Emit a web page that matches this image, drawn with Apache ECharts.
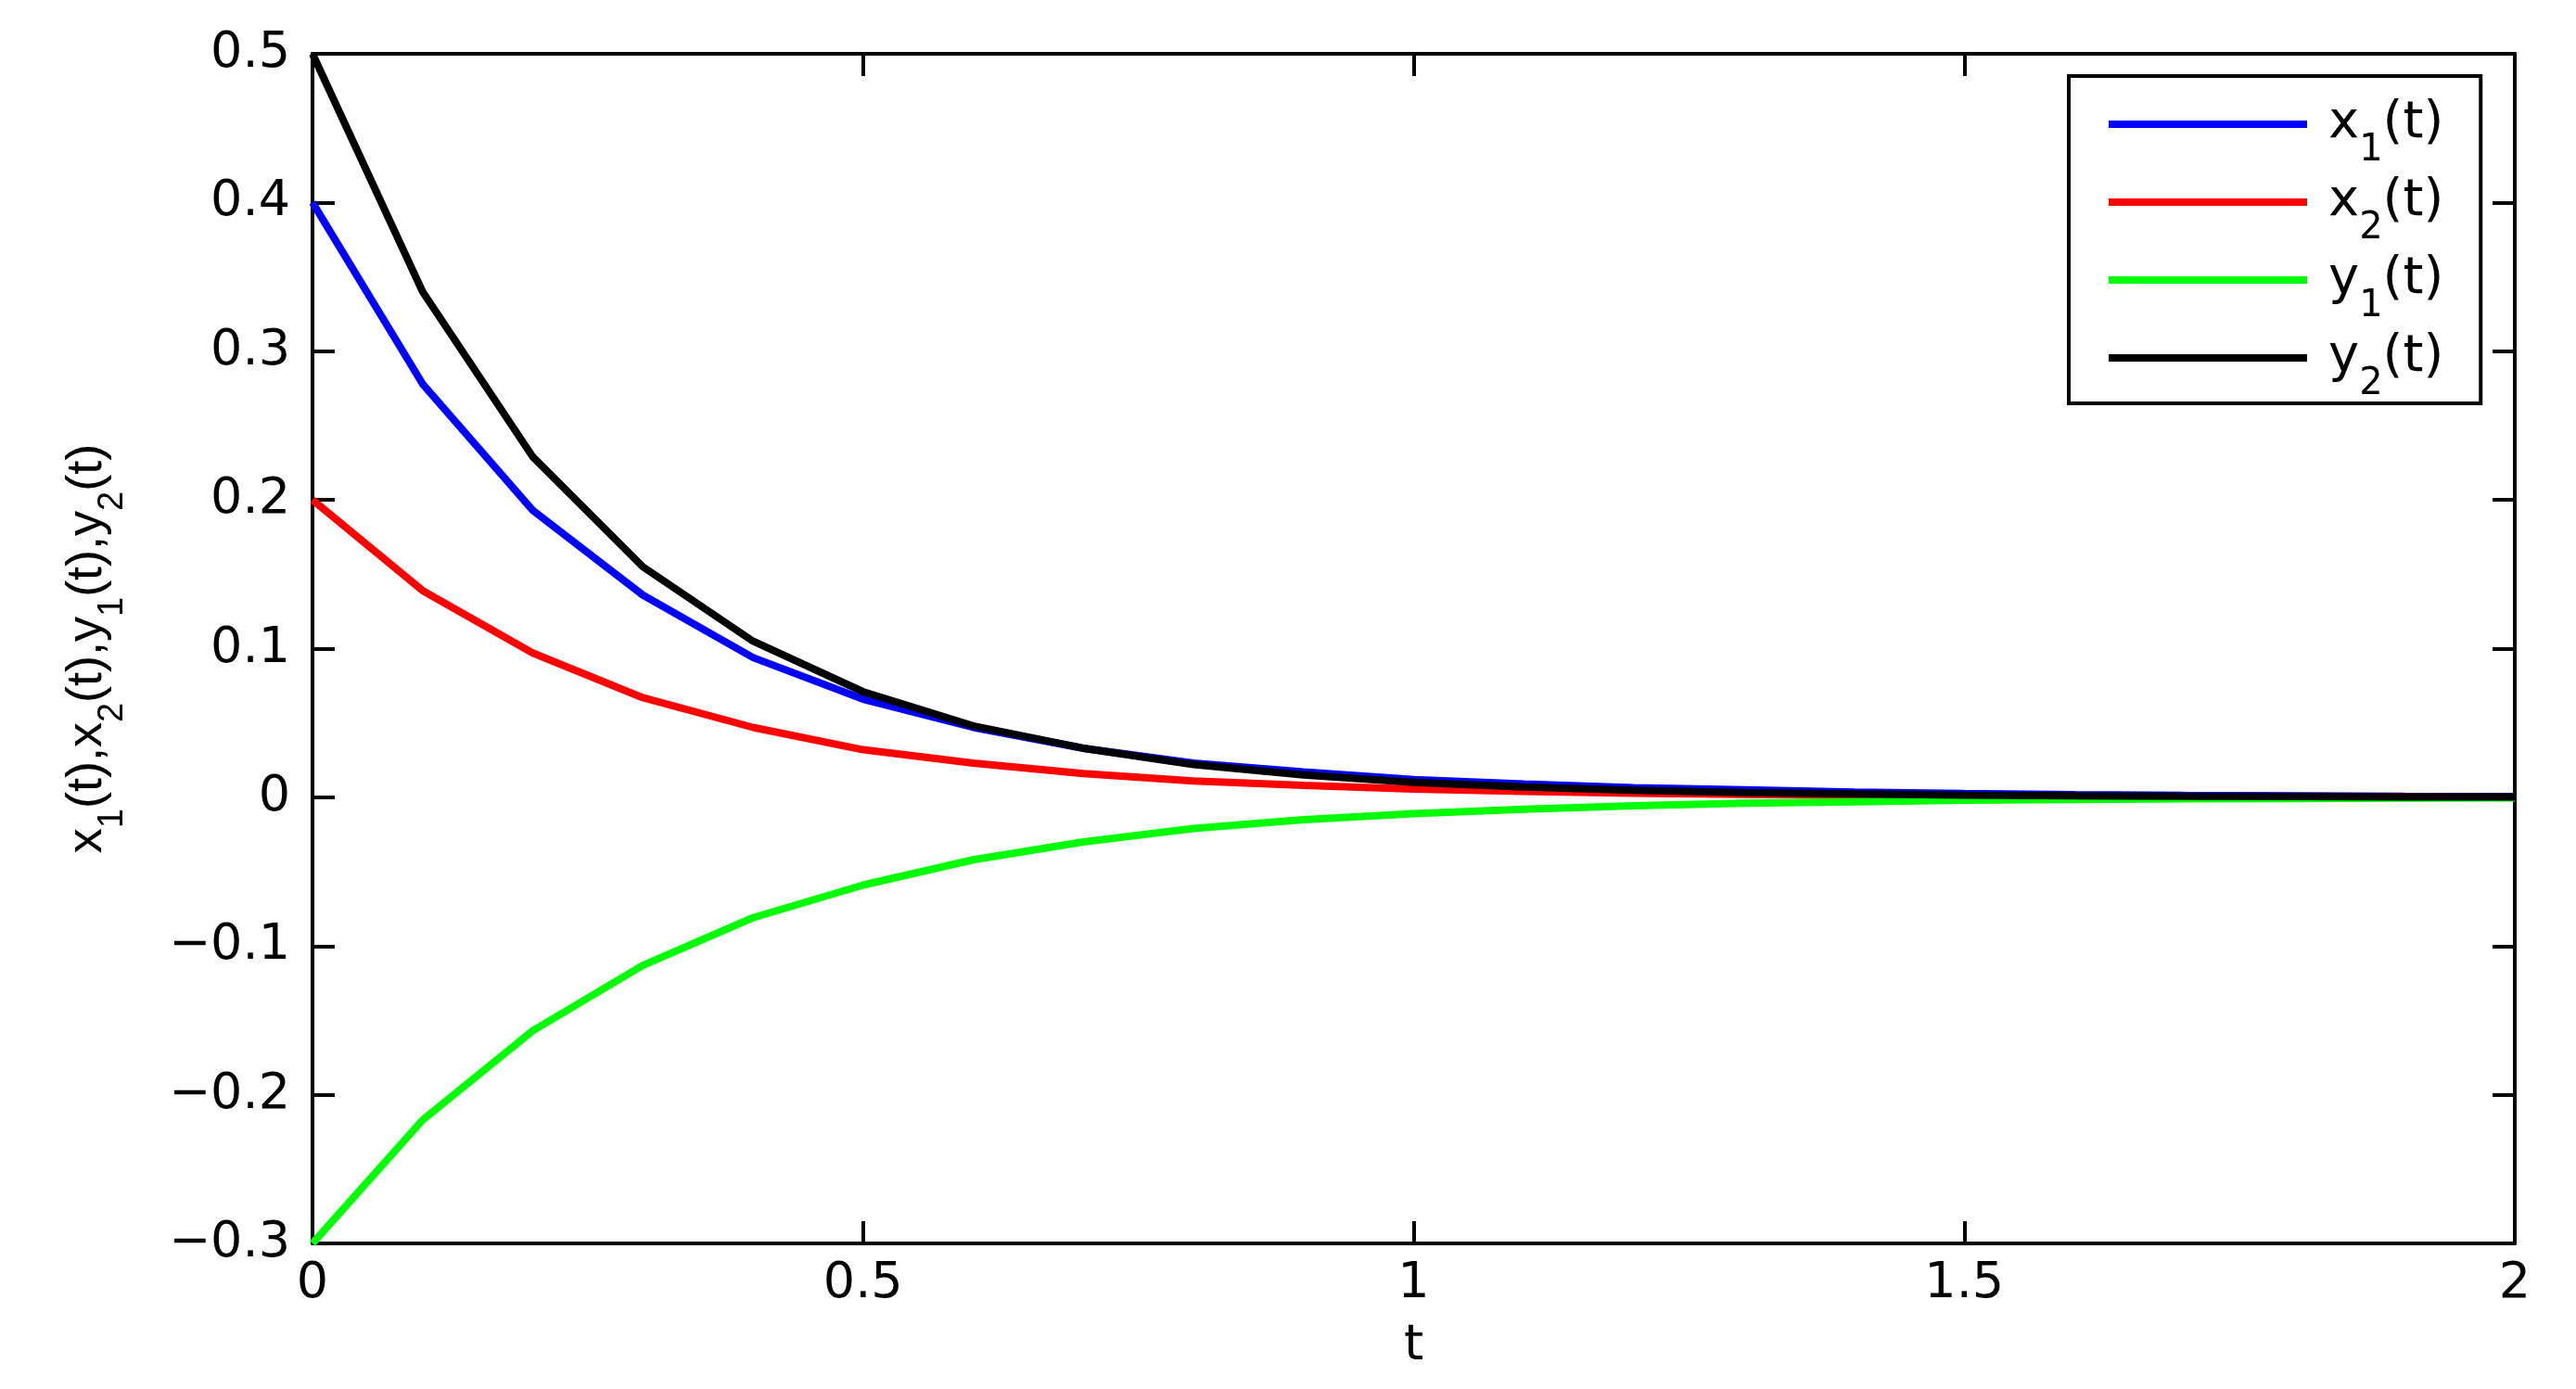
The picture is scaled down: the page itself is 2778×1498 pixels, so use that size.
<!DOCTYPE html>
<html><head><meta charset="utf-8">
<script src="https://cdn.jsdelivr.net/npm/echarts@6/dist/echarts.min.js"></script>
<style>html,body{margin:0;padding:0;background:#fff}#c{width:2778px;height:1498px}</style>
</head><body><div id="c"></div>
<script>
// ---- data ----
const tValues = [0, 0.1, 0.2, 0.3, 0.4, 0.5, 0.6, 0.7, 0.8, 0.9, 1.0, 1.1, 1.2, 1.3, 1.4, 1.5, 1.6, 1.7, 1.8, 1.9, 2.0];
const x1Values = [0.400, 0.278, 0.193, 0.136, 0.094, 0.066, 0.047, 0.033, 0.023, 0.017, 0.012, 0.009, 0.0065, 0.005, 0.0035, 0.0025, 0.0018, 0.0013, 0.001, 0.0007, 0.0005];
const x2Values = [0.200, 0.139, 0.097, 0.067, 0.047, 0.032, 0.023, 0.016, 0.011, 0.008, 0.0055, 0.004, 0.0027, 0.0019, 0.0013, 0.0009, 0.0006, 0.0004, 0.0003, 0.0002, 0.0001];
const y1Values = [-0.300, -0.217, -0.157, -0.113, -0.081, -0.059, -0.042, -0.030, -0.021, -0.015, -0.011, -0.008, -0.0057, -0.004, -0.003, -0.002, -0.0015, -0.001, -0.0008, -0.0005, -0.0004];
const y2Values = [0.500, 0.340, 0.229, 0.155, 0.105, 0.071, 0.048, 0.033, 0.022, 0.015, 0.010, 0.007, 0.0047, 0.0032, 0.0022, 0.0015, 0.001, 0.0007, 0.0005, 0.0003, 0.0002];
const seriesNames = ['x1(t)', 'x2(t)', 'y1(t)', 'y2(t)'];
const seriesColors = ['#0000ff', '#ff0000', '#00ff00', '#000000'];
const xAxisTitle = 't';
const yAxisTitle = 'x1(t),x2(t),y1(t),y2(t)';
const xRange = [0, 2, 0.5];
const yRange = [-0.3, 0.5, 0.1];

// ---- helpers ----
function toRich(s) {
  let out = '', buf = '';
  for (let i = 0; i < s.length; i++) {
    const c = s[i];
    if (/\d/.test(c) && i > 0 && /[a-z]/.test(s[i - 1])) {
      if (buf) out += '{m|' + buf + '}';
      buf = '';
      out += '{s|' + c + '}';
    } else buf += c;
  }
  if (buf) out += '{m|' + buf + '}';
  return out;
}
function fmtTick(v) {
  if (Math.abs(v) < 1e-9) return '0';
  const a = Math.abs(v);
  const s = (Math.abs(a - Math.round(a)) < 1e-9) ? String(Math.round(a)) : a.toFixed(1);
  return (v < 0 ? '\u2212' : '') + s;
}
const H_FONT = 'DejaVu Sans';
const V_FONT = 'Liberation Sans';
function richStyles(font, main, sub, lm, ls, pad) {
  return {
    m: { fontFamily: font, fontSize: main, color: '#000', lineHeight: lm, verticalAlign: 'top' },
    s: { fontFamily: font, fontSize: sub, color: '#000', lineHeight: ls, verticalAlign: 'top', padding: [pad, 0, 0, 0] }
  };
}

const seriesData = [x1Values, x2Values, y1Values, y2Values];
const series = seriesData.map((vals, k) => ({
  name: seriesNames[k],
  type: 'line',
  xAxisIndex: 0, yAxisIndex: 0,
  symbol: 'none',
  smooth: false,
  z: 2 + k,
  lineStyle: { color: seriesColors[k], width: 8 },
  itemStyle: { color: seriesColors[k] },
  data: tValues.map((t, i) => [t, vals[i]])
}));

const axisLineStyle = { color: '#000', width: 4 };
const tickStyle = { show: true, inside: true, length: 24, lineStyle: { color: '#000', width: 4 } };

const option = {
  backgroundColor: '#ffffff',
  animation: false,
  grid: { left: 337, right: 66, top: 58, bottom: 157, containLabel: false },
  legend: {
    orient: 'vertical',
    left: 2231, top: 82,
    padding: [23, 40, 0, 43],
    itemGap: 6,
    itemWidth: 214, itemHeight: 8,
    icon: 'rect',
    backgroundColor: '#fff',
    borderColor: '#000', borderWidth: 4, borderRadius: 0,
    align: 'left',
    data: seriesNames,
    formatter: n => toRich(n),
    textStyle: { padding: [0, 0, 0, 18], rich: richStyles(H_FONT, 56, 40, 58, 42, 38) }
  },
  xAxis: [{
    type: 'value', position: 'bottom',
    min: xRange[0], max: xRange[1], interval: xRange[2],
    name: xAxisTitle, nameLocation: 'middle', nameGap: 84,
    nameTextStyle: { fontFamily: H_FONT, fontSize: 54, color: '#000' },
    axisLine: { show: true, onZero: false, lineStyle: axisLineStyle },
    axisTick: tickStyle,
    axisLabel: { show: true, margin: 17, fontFamily: H_FONT, fontSize: 54, color: '#000', formatter: fmtTick },
    splitLine: { show: false }
  }, {
    type: 'value', position: 'top',
    min: xRange[0], max: xRange[1], interval: xRange[2],
    axisLine: { show: true, onZero: false, lineStyle: axisLineStyle },
    axisTick: tickStyle,
    axisLabel: { show: false },
    splitLine: { show: false }
  }],
  yAxis: [{
    type: 'value', position: 'left',
    min: yRange[0], max: yRange[1], interval: yRange[2],
    name: toRich(yAxisTitle), nameLocation: 'middle', nameGap: 212, nameRotate: 90,
    nameTextStyle: { rich: richStyles(V_FONT, 54, 38, 58, 40, 36) },
    axisLine: { show: true, onZero: false, lineStyle: axisLineStyle },
    axisTick: tickStyle,
    axisLabel: { show: true, margin: 24, fontFamily: H_FONT, fontSize: 54, color: '#000', formatter: fmtTick },
    splitLine: { show: false }
  }, {
    type: 'value', position: 'right',
    min: yRange[0], max: yRange[1], interval: yRange[2],
    axisLine: { show: true, onZero: false, lineStyle: axisLineStyle },
    axisTick: tickStyle,
    axisLabel: { show: false },
    splitLine: { show: false }
  }],
  series: series
};
const chart = echarts.init(document.getElementById('c'), null, { renderer: 'canvas' });
chart.setOption(option);
</script>
</body></html>
